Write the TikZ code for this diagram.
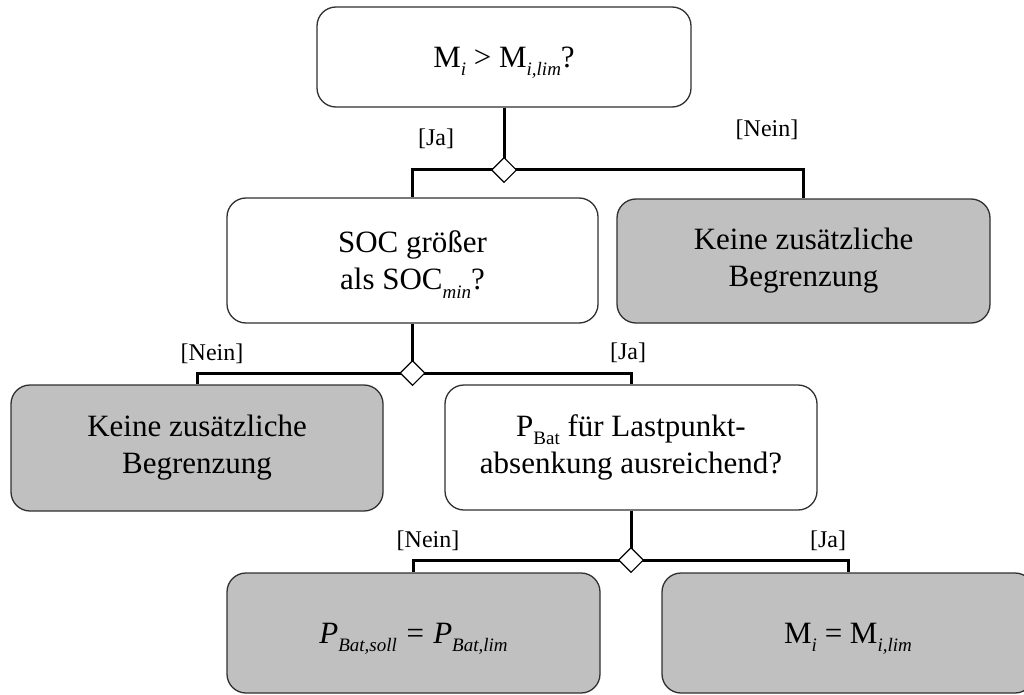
\documentclass[tikz,border=0pt]{standalone}
\usepackage{fontspec}
\setmainfont{Liberation Serif}
\usetikzlibrary{shapes.geometric}
\definecolor{boxgray}{HTML}{C0C0C0}
\definecolor{rimgray}{HTML}{303030}
% lowered subscript used in the formulas
\newcommand{\lowsub}[1]{\raisebox{-0.27em}[0pt][0pt]{\fontsize{19}{19}\selectfont #1}}
\begin{document}
\begin{tikzpicture}[x=1pt,y=-1pt,
  box/.style={draw=rimgray,line width=1.3pt,rounded corners=19pt,
    inner sep=0pt,align=center,font=\fontsize{31}{37}\selectfont},
  whitebox/.style={box,fill=white},
  graybox/.style={box,fill=boxgray},
  conn/.style={line width=3pt,black},
  junction/.style={diamond,draw=black,fill=white,line width=1.1pt,
    minimum width=25pt,minimum height=25pt,inner sep=0pt},
  guard/.style={font=\fontsize{24}{26}\selectfont,inner sep=0pt}]
\useasboundingbox (0,0) rectangle (1024,695);
\clip (0,0) rectangle (1024,695);

% decision and result boxes
\node[whitebox,minimum width=374pt,minimum height=100pt] (top) at (504,57)
  {M\lowsub{\itshape i} > M\lowsub{\itshape i,lim}?};
\node[whitebox,minimum width=371pt,minimum height=125pt] (soc) at (412.5,260.5)
  {SOC größer\\als SOC\lowsub{\itshape min}?};
\node[graybox,minimum width=373pt,minimum height=124pt] (keineA) at (803.5,261)
  {Keine zusätzliche\\Begrenzung};
\node[graybox,minimum width=372pt,minimum height=126pt] (keineB) at (197,448)
  {Keine zusätzliche\\Begrenzung};
\node[whitebox,minimum width=372pt,minimum height=125pt] (pbat) at (631,447.5)
  {P\lowsub{Bat} für Lastpunkt-\\absenkung ausreichend?};
\node[graybox,minimum width=373pt,minimum height=120pt] (soll) at (413.5,633)
  {\itshape P\lowsub{Bat,soll} = P\lowsub{Bat,lim}};
\node[graybox,minimum width=372pt,minimum height=120pt] (mlim) at (848,633)
  {M\lowsub{\itshape i} = M\lowsub{\itshape i,lim}};

% branching points
\coordinate (jA) at (504,170);
\coordinate (jB) at (412.5,373);
\coordinate (jC) at (631,560);

% connectors
\draw[conn] (top.south) -- (jA);
\draw[conn] (jA) -| (soc.north);
\draw[conn] (jA) -| (keineA.north);
\draw[conn] (soc.south) -- (jB);
\draw[conn] (jB) -| (keineB.north);
\draw[conn] (jB) -| (pbat.north);
\draw[conn] (pbat.south) -- (jC);
\draw[conn] (jC) -| (soll.north);
\draw[conn] (jC) -| (mlim.north);

\node[junction] (dA) at (jA) {};
\node[junction] (dB) at (jB) {};
\node[junction] (dC) at (jC) {};

% guard labels
\node[guard] (gA1) at (436,139) {[Ja]};
\node[guard] (gA2) at (767,130) {[Nein]};
\node[guard] (gB1) at (212,354) {[Nein]};
\node[guard] (gB2) at (628,353) {[Ja]};
\node[guard] (gC1) at (428,541) {[Nein]};
\node[guard] (gC2) at (828,541) {[Ja]};
\end{tikzpicture}
\end{document}
